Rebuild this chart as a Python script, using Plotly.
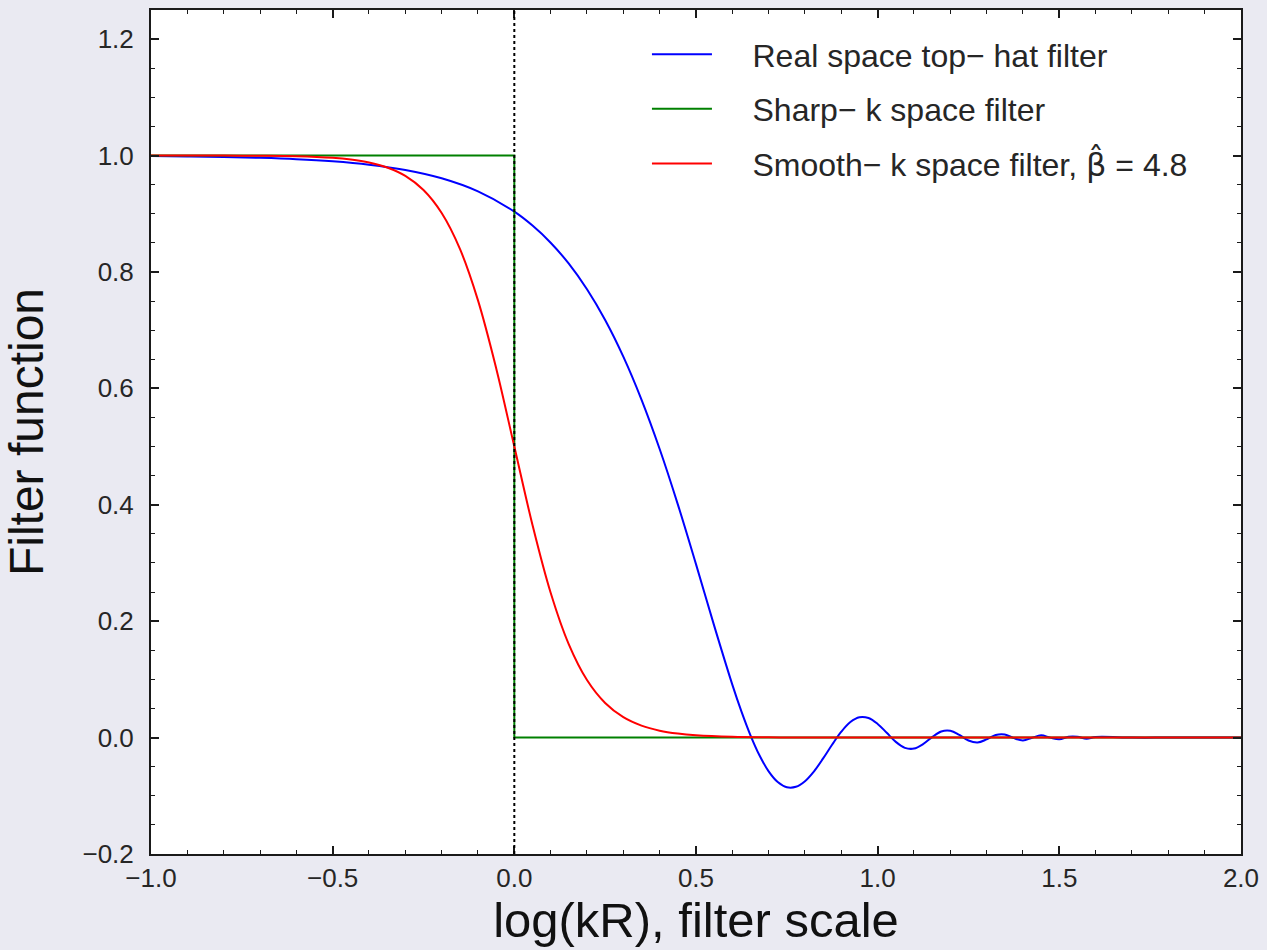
import plotly.graph_objects as go

# log10(kR) sample positions and filter values
tophat_logkr = [-1.0, -0.9, -0.8, -0.7, -0.6, -0.5, -0.4, -0.3, -0.2, -0.1,
                0.0, 0.05, 0.1, 0.15, 0.2, 0.25, 0.3, 0.35, 0.4, 0.45, 0.5, 0.55, 0.6,
                0.625, 0.65, 0.675, 0.7, 0.725, 0.75, 0.775, 0.8, 0.825, 0.85, 0.875,
                0.9, 0.925, 0.95, 0.975, 1.0, 1.025, 1.05, 1.075, 1.1, 1.125, 1.15,
                1.175, 1.2, 1.225, 1.25, 1.275, 1.3, 1.325, 1.35, 1.375, 1.4, 1.425,
                1.45, 1.475, 1.5, 1.525, 1.55, 1.575, 1.6, 1.7, 1.8, 1.9, 2.0]
tophat_w = [0.999, 0.9984, 0.9975, 0.9960, 0.9937, 0.9900, 0.9842, 0.9751, 0.9608, 0.9383,
            0.9035, 0.8796, 0.8502, 0.8142, 0.7703, 0.7175, 0.6545, 0.5807, 0.4958, 0.4007,
            0.2980, 0.1923, 0.0910,
            0.0450, 0.0039, -0.0309, -0.0580, -0.0764, -0.0853, -0.0846, -0.0750, -0.0579,
            -0.0358, -0.0119,
            0.0102, 0.0268, 0.0350, 0.0336, 0.0235, 0.0082, -0.0074, -0.0176, -0.0189,
            -0.0113, 0.0009,
            0.0105, 0.0117, 0.0045, -0.0051, -0.0085, -0.0031, 0.0046, 0.0054, -0.0010,
            -0.0048, -0.0003,
            0.0038, -0.0001, -0.0029, 0.0014, 0.0014, -0.0021, 0.0010, 0.0, 0.0, 0.0, 0.0]

sharp_logkr = [-1.0, 0.0, 0.0, 2.0]
sharp_w = [1.0, 1.0, 0.0, 0.0]

smooth_logkr = [-1.0, -0.9, -0.8, -0.7, -0.6, -0.5, -0.45, -0.4, -0.35, -0.3, -0.25,
                -0.2, -0.15, -0.1, -0.05, 0.0, 0.05, 0.1, 0.15, 0.2, 0.25, 0.3,
                0.35, 0.4, 0.45, 0.5, 0.6, 0.7, 0.8, 1.0, 2.0]
smooth_w = [1.0, 1.0, 0.9999, 0.9996, 0.9987, 0.9960, 0.9931, 0.9881, 0.9795,
            0.9650, 0.9407, 0.9012, 0.8400, 0.7512, 0.6347, 0.5, 0.3653, 0.2488,
            0.1601, 0.0988, 0.0594, 0.0350, 0.0205, 0.0119, 0.0069, 0.0040,
            0.0013, 0.0004, 0.0001, 0.0, 0.0]

x_ticks = [-1.0, -0.5, 0.0, 0.5, 1.0, 1.5, 2.0]
y_ticks = [-0.2, 0.0, 0.2, 0.4, 0.6, 0.8, 1.0, 1.2]

FONT = "Liberation Sans, Arial, sans-serif"
AXCOL = "#1a1a1a"
TXT = "#262626"
PAD = "\u00a0\u00a0\u00a0\u00a0"

fig = go.Figure()
fig.add_trace(go.Scatter(x=tophat_logkr, y=tophat_w, mode="lines",
                         line=dict(color="#0000ff", width=2, shape="spline", smoothing=1.0),
                         name=PAD + "Real space top\u2212 hat filter", legendgroup="a"))
fig.add_trace(go.Scatter(x=sharp_logkr, y=sharp_w, mode="lines",
                         line=dict(color="#008000", width=2),
                         name=PAD + "Sharp\u2212 k space filter", legendgroup="b"))
fig.add_trace(go.Scatter(x=smooth_logkr, y=smooth_w, mode="lines",
                         line=dict(color="#ff0000", width=2, shape="spline", smoothing=1.0),
                         name=PAD + "Smooth\u2212 k space filter, "
                              "<span style='font-family:DejaVu Sans'>\u03b2\u0302</span> = 4.8",
                         legendgroup="c"))

fig.add_vline(x=0, line=dict(color="black", width=2, dash="dot"), layer="above")

axis_common = dict(showline=True, mirror="ticks", linecolor=AXCOL, linewidth=2,
                   ticks="inside", ticklen=8, tickwidth=1.5, tickcolor=AXCOL,
                   showgrid=False, zeroline=False,
                   tickfont=dict(family=FONT, size=26, color=TXT),
                   tickformat=".1f")

fig.update_xaxes(range=[-1.0, 2.0001], tickvals=x_ticks,
                 minor=dict(ticks="inside", ticklen=4, dtick=0.1, tickcolor=AXCOL, tickwidth=1),
                 title=dict(text="log(kR), filter scale", font=dict(family=FONT, size=49, color="#111111"),
                            standoff=2),
                 **axis_common)
fig.update_yaxes(range=[-0.2, 1.25], tickvals=y_ticks, ticklabelstandoff=10,
                 minor=dict(ticks="inside", ticklen=4, dtick=0.05, tickcolor=AXCOL, tickwidth=1),
                 title=dict(text="Filter function", font=dict(family=FONT, size=48, color="#111111"),
                            standoff=40),
                 **axis_common)

fig.update_layout(
    width=1267, height=950,
    margin=dict(l=151, r=26, t=8, b=96),
    paper_bgcolor="#eaeaf2", plot_bgcolor="white",
    showlegend=True,
    legend=dict(x=0.455, y=0.98, xanchor="left", yanchor="top",
                bgcolor="rgba(0,0,0,0)", font=dict(family=FONT, size=32, color=TXT),
                traceorder="grouped", tracegroupgap=10, itemwidth=60),
)

fig.write_html("out.html", config={"displayModeBar": False},
               post_script="document.body.style.margin='0';"
                           "document.body.style.background='#eaeaf2';")
